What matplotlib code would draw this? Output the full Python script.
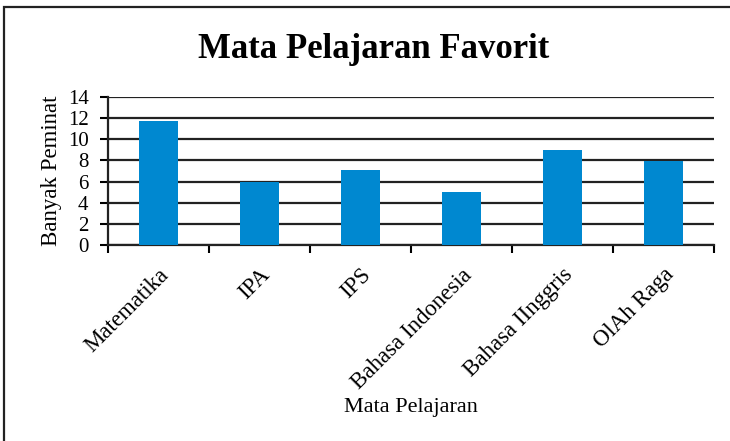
import matplotlib.pyplot as plt
from matplotlib.patches import Rectangle

# Jumlah peminat tiap mata pelajaran
mapel = ['Matematika', 'IPA', 'IPS', 'Bahasa Indonesia', 'Bahasa IInggris', 'OlAh Raga']
peminat = [11.7, 6, 7.1, 5, 9, 7.9]
yticks = [0, 2, 4, 6, 8, 10, 12, 14]

plt.rcParams['font.family'] = ['Liberation Serif', 'DejaVu Serif']

fig = plt.figure(figsize=(7.3, 4.41), dpi=100)
ax = fig.add_axes([0.148, 0.4444, 0.830, 0.336])

x = range(len(mapel))
ax.bar(x, peminat, width=0.39, color='#0088d0', zorder=3)

ax.set_xlim(-0.5, len(mapel) - 0.5)
ax.set_ylim(0, 14)
ax.set_yticks(yticks)
ax.set_yticklabels([str(v) for v in yticks], fontsize=15)
ax.yaxis.grid(True, color='#222222', linewidth=1.6, zorder=1)
ax.set_axisbelow(True)

# tick di batas antar kategori, label di tengah
ax.set_xticks([i - 0.5 for i in range(len(mapel) + 1)])
ax.set_xticklabels([])
ax.set_xticks(list(x), minor=True)
ax.set_xticklabels(mapel, minor=True, rotation=45, ha='right', va='top',
                   rotation_mode='anchor', fontsize=16.5)
ax.tick_params(axis='x', which='minor', length=0, pad=14)
ax.tick_params(axis='x', which='major', length=6, width=1.5, direction='out')
ax.tick_params(axis='y', length=6, width=1.5, pad=8, direction='out')

for side in ['top', 'right']:
    ax.spines[side].set_visible(False)
for side in ['left', 'bottom']:
    ax.spines[side].set_linewidth(1.6)
    ax.spines[side].set_color('#222222')

ax.set_ylabel('Banyak Peminat', fontsize=16.5, labelpad=4)
fig.text(0.563, 0.075, 'Mata Pelajaran', ha='center', va='center', fontsize=16)
fig.text(0.512, 0.888, 'Mata Pelajaran Favorit', ha='center', va='center',
         fontsize=25, fontweight='bold')

# bingkai luar
fig.add_artist(Rectangle((4 / 730, -0.1), 1.2, 1.1 - 7 / 441,
                         transform=fig.transFigure, fill=False,
                         edgecolor='#222222', linewidth=1.6))

fig.savefig('out.png', dpi=100)
